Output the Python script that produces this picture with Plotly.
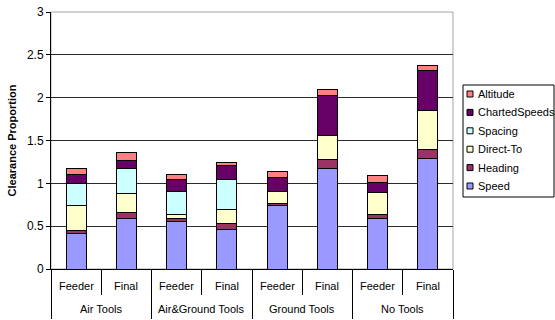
import plotly.graph_objects as go

# Clearance proportions by tool condition and airspace (Feeder / Final)
groups = ["Air Tools", "Air&Ground Tools", "Ground Tools", "No Tools"]
phases = ["Feeder", "Final"]

speed = [0.42, 0.59, 0.55, 0.46, 0.74, 1.17, 0.59, 1.29]
heading = [0.03, 0.07, 0.04, 0.07, 0.03, 0.11, 0.05, 0.11]
direct_to = [0.29, 0.22, 0.05, 0.17, 0.13, 0.28, 0.25, 0.45]
spacing = [0.26, 0.29, 0.27, 0.34, 0.0, 0.0, 0.0, 0.0]
charted_speeds = [0.10, 0.10, 0.14, 0.17, 0.17, 0.46, 0.12, 0.47]
altitude = [0.07, 0.09, 0.05, 0.03, 0.07, 0.07, 0.08, 0.05]

series_names = ["Speed", "Heading", "Direct-To", "Spacing", "ChartedSpeeds", "Altitude"]
series_values = [speed, heading, direct_to, spacing, charted_speeds, altitude]
series_colors = ["#9999FF", "#993366", "#FFFFCC", "#CCFFFF", "#660066", "#FF8080"]

FONT = "Liberation Sans, Arial, sans-serif"
W, H = 555, 320
ML, MR, MT, MB = 51, 102, 12, 51
PW, PH = W - ML - MR, H - MT - MB


def px_x(x):
    return (x - ML) / PW


def px_y(y):
    return (H - MB - y) / PH


n_phase = len(phases)
slots = list(range(len(groups) * n_phase))          # one category slot per bar
slot_phase = [phases[i % n_phase] for i in slots]
group_edges = [g * n_phase - 0.5 for g in range(len(groups) + 1)]
phase_edges = [g * n_phase + k - 0.5 for g in range(len(groups)) for k in range(1, n_phase)]

fig = go.Figure()
for name, vals, color in zip(series_names, series_values, series_colors):
    fig.add_trace(go.Bar(
        x=slots, y=vals, name=name, showlegend=False,
        marker=dict(color=color, line=dict(color="black", width=1)),
    ))

# category labels: phase on the first row, tool condition on the second
for i, ph in zip(slots, slot_phase):
    fig.add_annotation(x=i, y=px_y(286), xref="x", yref="paper", text=ph,
                       showarrow=False, xanchor="center", yanchor="middle",
                       font=dict(family=FONT, size=11, color="black"))
for g, grp in enumerate(groups):
    fig.add_annotation(x=g * n_phase + (n_phase - 1) / 2, y=px_y(309.5), xref="x", yref="paper",
                       text=grp, showarrow=False, xanchor="center", yanchor="middle",
                       font=dict(family=FONT, size=11, color="black"))

# plot-area frame (light grey on top / right)
fig.add_shape(type="rect", xref="paper", yref="paper", x0=0, x1=1, y0=0, y1=1,
              line=dict(color="#A6A6A6", width=1), layer="below")

# legend box with swatches, listed top-down from last series
lx0, lx1, ly0, ly1 = 463, 554, 85, 197
fig.add_shape(type="rect", xref="paper", yref="paper",
              x0=px_x(lx0), x1=px_x(lx1), y0=px_y(ly1), y1=px_y(ly0),
              line=dict(color="black", width=1), fillcolor="white")
row_y0, row_step = 94, 18.4
for i, (name, color) in enumerate(zip(series_names[::-1], series_colors[::-1])):
    cy = row_y0 + i * row_step
    fig.add_shape(type="rect", xref="paper", yref="paper",
                  x0=px_x(467), x1=px_x(473), y0=px_y(cy + 3), y1=px_y(cy - 3),
                  line=dict(color="black", width=1), fillcolor=color)
    fig.add_annotation(x=px_x(476), y=px_y(cy), xref="paper", yref="paper",
                       text=name, showarrow=False, xanchor="left", yanchor="middle",
                       font=dict(family=FONT, size=11, color="black"))

fig.update_layout(
    width=W, height=H,
    margin=dict(l=ML, r=MR, t=MT, b=MB, pad=0, autoexpand=False),
    barmode="stack", bargap=0.6,
    plot_bgcolor="white", paper_bgcolor="white",
    font=dict(family=FONT, size=11, color="black"),
    showlegend=False,
)
fig.update_yaxes(
    range=[0, 3], dtick=0.5, showgrid=True, gridcolor="#2a2a2a", gridwidth=1,
    showline=True, linecolor="black", linewidth=1,
    ticks="outside", ticklen=4, tickcolor="black",
    tickfont=dict(family=FONT, size=12, color="black"),
    title=dict(text="<b>Clearance Proportion</b>", font=dict(family=FONT, size=11), standoff=8),
    zeroline=False, automargin=False,
)
fig.update_xaxes(
    range=[-0.5, len(slots) - 0.5],
    showline=True, linecolor="black", linewidth=1,
    tickmode="array", tickvals=group_edges, ticktext=[""] * len(group_edges),
    showticklabels=False,
    ticks="outside", ticklen=49, tickcolor="black", tickwidth=1,
    minor=dict(tickmode="array", tickvals=phase_edges, ticks="outside",
               ticklen=25, tickcolor="black", tickwidth=1, showgrid=False),
    showgrid=False, zeroline=False, automargin=False,
)

fig.write_html("out.html")
